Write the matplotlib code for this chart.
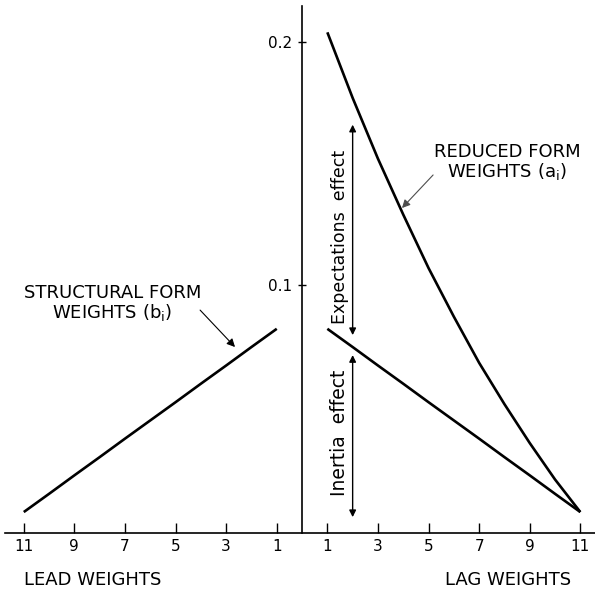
import matplotlib

matplotlib.use("Agg")

import matplotlib.pyplot as plt

# lead side is drawn at negative x, lag side at positive x
lead_lags = [-11, -10, -9, -8, -7, -6, -5, -4, -3, -2, -1]
lag_lags = [1, 2, 3, 4, 5, 6, 7, 8, 9, 10, 11]

# structural form weights b_i (same on both sides)
structural_lead = [0.0066, 0.0141, 0.0217, 0.0292, 0.0368, 0.0443, 0.0518, 0.0594, 0.0669, 0.0745, 0.082]
structural_lag = [0.082, 0.0745, 0.0669, 0.0594, 0.0518, 0.0443, 0.0368, 0.0292, 0.0217, 0.0141, 0.0066]
# reduced form weights a_i
reduced_lag = [0.204, 0.177, 0.152, 0.129, 0.107, 0.087, 0.068, 0.051, 0.035, 0.020, 0.0066]

xtick_pos = [-11, -9, -7, -5, -3, -1, 1, 3, 5, 7, 9, 11]
xtick_labels = ["11", "9", "7", "5", "3", "1", "1", "3", "5", "7", "9", "11"]
ytick_pos = [0.1, 0.2]
ytick_labels = ["0.1", "0.2"]

# effect bars drawn at lag 2
effect_lag = 2
expectations_span = (0.0794, 0.166)
inertia_span = (0.0045, 0.0712)

FONT = "DejaVu Sans"

fig = plt.figure(figsize=(5.95, 5.92), dpi=100)
ax = fig.add_axes([0, 0, 1, 1])
ax.set_xlim(-11.94, 11.58)
ax.set_ylim(-0.0263, 0.2173)

ax.plot(lead_lags, structural_lead, color="black", lw=1.9, solid_capstyle="butt")
ax.plot(lag_lags, structural_lag, color="black", lw=1.9, solid_capstyle="butt")
ax.plot(lag_lags, reduced_lag, color="black", lw=1.9, solid_capstyle="butt", solid_joinstyle="round")

for side in ["top", "right"]:
    ax.spines[side].set_visible(False)
ax.spines["left"].set_position(("data", 0))
ax.spines["bottom"].set_position(("data", -0.002))
ax.spines["left"].set_bounds(-0.002, 0.215)
ax.spines["bottom"].set_bounds(-11.74, 11.58)
ax.spines["left"].set_linewidth(1.2)
ax.spines["bottom"].set_linewidth(1.2)

ax.set_xticks(xtick_pos)
ax.set_xticklabels(xtick_labels, fontsize=11, family=FONT)
ax.tick_params(axis="x", direction="in", length=7, width=1, pad=4)
ax.set_yticks(ytick_pos)
ax.set_yticklabels(ytick_labels, fontsize=11, family=FONT)
ax.tick_params(axis="y", direction="inout", length=6, width=1, pad=4)

ax.text(-8.26, -0.0214, "LEAD WEIGHTS", ha="center", va="center", fontsize=13, family=FONT)
ax.text(8.14, -0.0214, "LAG WEIGHTS", ha="center", va="center", fontsize=13, family=FONT)

ax.text(-7.5, 0.0925, "STRUCTURAL FORM\nWEIGHTS (b$_\\mathregular{i}$)", ha="center", va="center",
        fontsize=13, family=FONT, linespacing=1.0)
ax.annotate("", xy=(-2.65, 0.0745), xytext=(-4.03, 0.0897),
            arrowprops=dict(arrowstyle="-|>", lw=0.8, color="black", mutation_scale=12,
                            shrinkA=0, shrinkB=0))

ax.text(8.1, 0.1506, "REDUCED FORM\nWEIGHTS (a$_\\mathregular{i}$)", ha="center", va="center",
        fontsize=13, family=FONT, linespacing=1.0)
ax.annotate("", xy=(3.95, 0.1317), xytext=(5.18, 0.1453),
            arrowprops=dict(arrowstyle="-|>", lw=0.8, color="0.3", mutation_scale=12,
                            shrinkA=0, shrinkB=0))

ax.annotate("", xy=(effect_lag, expectations_span[1]), xytext=(effect_lag, expectations_span[0]),
            arrowprops=dict(arrowstyle="<|-|>", lw=1.0, color="black", mutation_scale=10,
                            shrinkA=0, shrinkB=0))
ax.annotate("", xy=(effect_lag, inertia_span[1]), xytext=(effect_lag, inertia_span[0]),
            arrowprops=dict(arrowstyle="<|-|>", lw=1.0, color="black", mutation_scale=10,
                            shrinkA=0, shrinkB=0))
ax.text(1.5, 0.1198, "Expectations  effect", rotation=90, ha="center", va="center",
        fontsize=12.5, family=FONT)
ax.text(1.5, 0.039, "Inertia  effect", rotation=90, ha="center", va="center",
        fontsize=13.5, family=FONT)

fig.savefig("out.png", dpi=100)
plt.close(fig)
